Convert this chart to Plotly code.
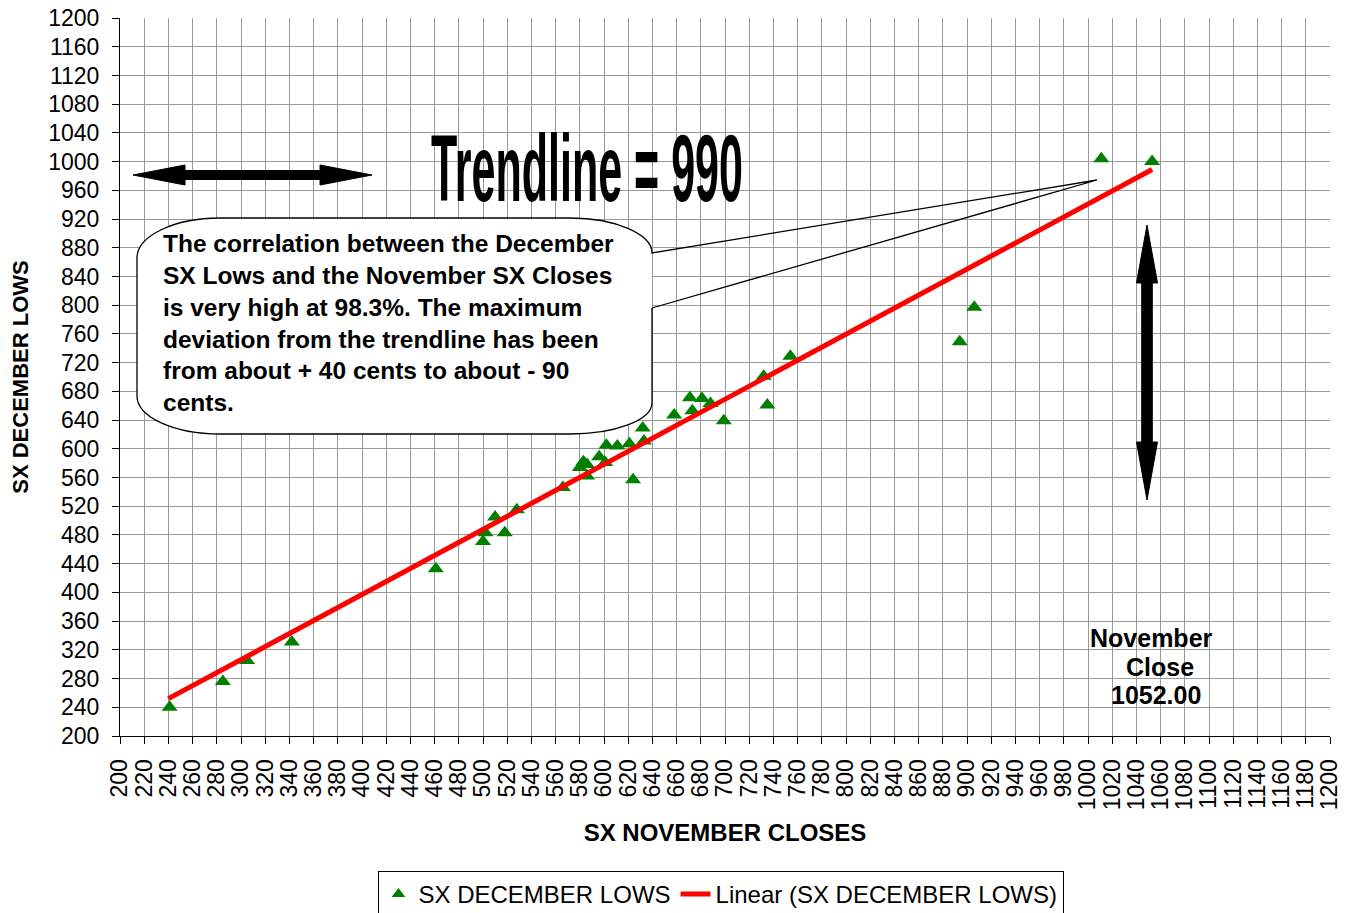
import plotly.graph_objects as go

# ---- data ----
nov_closes = [241, 285, 305, 342, 461, 500, 502, 510, 518, 528, 566,
              580, 583, 586, 586, 596, 601, 602, 611, 621, 624, 632, 633,
              658, 671, 673, 681, 688, 699, 732, 735, 754, 894, 906, 1011, 1053]
dec_lows = [240, 276, 305, 331, 433, 471, 483, 505, 483, 515, 546,
            574, 582, 578, 562, 589, 581, 605, 604, 607, 557, 629, 611,
            647, 671, 653, 670, 663, 639, 701, 661, 729, 749, 797, 1004, 1000]
trend_x = [240, 1053]
trend_y = [252, 989]

x_ticks = list(range(200, 1201, 20))
y_ticks = list(range(200, 1201, 40))

# ---- layout geometry (pixel helpers for decorations) ----
W, H = 1348, 913
PL, PT, PR, PB = 120, 18, 1330, 736


def dx(px):
    return 200 + (px - PL) * 1000 / (PR - PL)


def dy(py):
    return 200 + (PB - py) * 1000 / (PB - PT)


def path(points_cmds):
    out = []
    for cmd, pts in points_cmds:
        coords = " ".join(f"{dx(a):.3f},{dy(b):.3f}" for a, b in pts)
        out.append(f"{cmd}{coords}")
    return " ".join(out)


FONT = "Liberation Sans, Arial, sans-serif"

fig = go.Figure()
fig.add_trace(go.Scatter(
    x=nov_closes, y=dec_lows, mode="markers", name="SX DECEMBER LOWS",
    marker=dict(symbol="triangle-up", size=14, color="#008000",
                line=dict(width=0)),
))
fig.add_trace(go.Scatter(
    x=trend_x, y=trend_y, mode="lines", name="Linear (SX DECEMBER LOWS)",
    line=dict(color="#ff0000", width=5),
))

shapes = []
# callout body (white fill, no stroke)
body = path([
    ("M", [(220, 218)]), ("L", [(570, 218)]),
    ("C", [(615, 218), (652, 234), (652, 253)]),
    ("L", [(652, 403)]),
    ("C", [(652, 420), (615, 434), (570, 434)]),
    ("L", [(220, 434)]),
    ("C", [(174, 434), (137, 417), (137, 396)]),
    ("L", [(137, 258)]),
    ("C", [(137, 236), (174, 218), (220, 218)]),
]) + " Z"
shapes.append(dict(type="path", path=body, xref="x", yref="y",
                   fillcolor="white", line=dict(width=0), layer="above"))
outline = path([
    ("M", [(652, 308)]), ("L", [(652, 403)]),
    ("C", [(652, 420), (615, 434), (570, 434)]),
    ("L", [(220, 434)]),
    ("C", [(174, 434), (137, 417), (137, 396)]),
    ("L", [(137, 258)]),
    ("C", [(137, 236), (174, 218), (220, 218)]),
    ("L", [(570, 218)]),
    ("C", [(615, 218), (652, 234), (652, 253)]),
    ("L", [(1097, 180)]),
    ("L", [(652, 308)]),
])
shapes.append(dict(type="path", path=outline, xref="x", yref="y",
                   fillcolor="rgba(0,0,0,0)", line=dict(color="black", width=1.3),
                   layer="above"))

# horizontal double arrow
ha = path([
    ("M", [(133, 175)]), ("L", [(185, 165)]), ("L", [(185, 170.5)]),
    ("L", [(320, 170.5)]), ("L", [(320, 165)]), ("L", [(372, 175)]),
    ("L", [(320, 185)]), ("L", [(320, 179.5)]), ("L", [(185, 179.5)]),
    ("L", [(185, 185)]),
]) + " Z"
shapes.append(dict(type="path", path=ha, xref="x", yref="y",
                   fillcolor="black", line=dict(color="black", width=1), layer="above"))
# vertical double arrow
va = path([
    ("M", [(1147, 225)]), ("L", [(1157.5, 283)]), ("L", [(1152.3, 283)]),
    ("L", [(1152.3, 442)]), ("L", [(1157.5, 442)]), ("L", [(1147, 500)]),
    ("L", [(1136.5, 442)]), ("L", [(1141.7, 442)]), ("L", [(1141.7, 283)]),
    ("L", [(1136.5, 283)]),
]) + " Z"
shapes.append(dict(type="path", path=va, xref="x", yref="y",
                   fillcolor="black", line=dict(color="black", width=1), layer="above"))

annotations = [
    dict(text="Trendline = 990", x=dx(587), y=dy(168), xref="x", yref="y",
         showarrow=False, xanchor="center", yanchor="middle",
         font=dict(family=FONT, size=94, color="black", weight="bold")),
    dict(text=("The correlation between the December<br>"
               "SX Lows and the November SX Closes<br>"
               "is very high at 98.3%. The maximum<br>"
               "deviation from the trendline has been<br>"
               "from about + 40 cents to about - 90<br>"
               "cents."),
         x=dx(161), y=dy(323), xref="x", yref="y", showarrow=False,
         xanchor="left", yanchor="middle", align="left",
         font=dict(family=FONT, size=24.5, color="black", weight="bold")),
    dict(text="November", x=dx(1151), y=dy(638), xref="x", yref="y",
         showarrow=False, xanchor="center", yanchor="middle",
         font=dict(family=FONT, size=25, color="black", weight="bold")),
    dict(text="Close", x=dx(1160), y=dy(667), xref="x", yref="y",
         showarrow=False, xanchor="center", yanchor="middle",
         font=dict(family=FONT, size=25, color="black", weight="bold")),
    dict(text="1052.00", x=dx(1156), y=dy(695), xref="x", yref="y",
         showarrow=False, xanchor="center", yanchor="middle",
         font=dict(family=FONT, size=25, color="black", weight="bold")),
]

fig.update_layout(
    width=W, height=H, autosize=False,
    margin=dict(l=PL, r=W - PR, t=PT, b=H - PB, pad=0, autoexpand=False),
    paper_bgcolor="white", plot_bgcolor="white",
    font=dict(family=FONT, size=23, color="black"),
    shapes=shapes, annotations=annotations,
    showlegend=True,
    legend=dict(orientation="h", x=(720.5 - PL) / (PR - PL), xanchor="center",
                y=(PB - 871) / (PB - PT), yanchor="top",
                bordercolor="black", borderwidth=1, bgcolor="white",
                font=dict(family=FONT, size=24, color="black"),
                itemsizing="constant"),
    xaxis=dict(range=[200, 1200], tickvals=x_ticks, ticktext=[str(v) for v in x_ticks],
               tickangle=-90, ticks="outside", ticklen=7, tickcolor="black",
               ticklabelstandoff=6, automargin=False,
               showline=True, linecolor="black", linewidth=1,
               showgrid=True, gridcolor="#999999", gridwidth=1, zeroline=False,
               title=dict(text="<b>SX NOVEMBER CLOSES</b>", standoff=14,
                          font=dict(family=FONT, size=24, color="black"))),
    yaxis=dict(range=[200, 1200], tickvals=y_ticks, ticktext=[str(v) for v in y_ticks],
               ticks="outside", ticklen=7, tickcolor="black",
               ticklabelstandoff=8, automargin=False,
               showline=True, linecolor="black", linewidth=1,
               showgrid=True, gridcolor="#999999", gridwidth=1, zeroline=False,
               title=dict(text="<b>SX DECEMBER LOWS</b>", standoff=13,
                          font=dict(family=FONT, size=22, color="black"))),
)

post = """
document.body.style.margin='0';
var gd=document.getElementById('{plot_id}');
function fixT(){
  gd.querySelectorAll('text.annotation-text').forEach(function(el){
    if(el.textContent.indexOf('Trendline')===0){
      el.setAttribute('textLength','312');
      el.setAttribute('lengthAdjust','spacingAndGlyphs');
    }
  });
}
fixT();
gd.on('plotly_afterplot', fixT);
"""

fig.write_html("out.html", post_script=post, config={"displayModeBar": False})
